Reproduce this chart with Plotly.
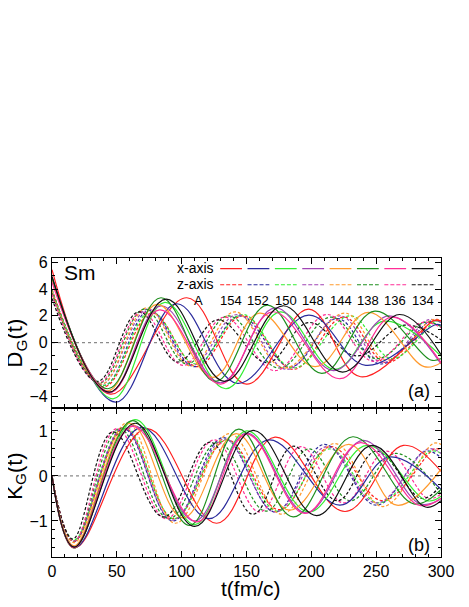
import plotly.graph_objects as go

# Mass numbers and colours of the curves (legend order)
mass_labels = ["154", "152", "150", "148", "144", "138", "136", "134"]
colors = ["#ff2020", "#2b2b9c", "#33ee33", "#a045b5", "#ff9a2e", "#1f8f1f", "#ff2d96", "#111111"]

# D_G(t), x-axis (solid): (t, value) at start, extrema, end
dg_x_154 = [(0, 5.45), (45, -3.85), (104, 3.35), (150, -3.1), (198, 2.5), (238, -2.55), (295, 1.65), (300, 1.6)]
dg_x_152 = [(0, 4.9), (49, -4.45), (96, 2.9), (143, -3.05), (198, 2.05), (242, -1.7), (296, 1.35), (300, 1.3)]
dg_x_150 = [(0, 4.8), (47, -4.2), (87, 3.0), (134, -3.45), (176, 2.3), (218, -2.0), (256, 1.6), (300, -1.0)]
dg_x_148 = [(0, 4.75), (44, -3.75), (84, 2.75), (130, -3.0), (172, 2.6), (217, -2.1), (260, 2.0), (300, -1.6)]
dg_x_144 = [(0, 4.7), (43, -3.6), (81, 2.85), (124, -2.6), (160, 2.2), (203, -1.8), (244, 2.25), (287, -1.8), (300, -1.5)]
dg_x_138 = [(0, 4.85), (43, -3.45), (84, 3.35), (126, -2.9), (166, 2.8), (208, -2.3), (249, 2.35), (292, -1.3), (300, -1.2)]
dg_x_136 = [(0, 4.5), (45, -3.7), (83, 2.45), (130, -3.1), (170, 2.3), (222, -2.7), (262, 1.9), (300, -1.5)]
dg_x_134 = [(0, 4.95), (44, -3.7), (88, 3.25), (133, -2.9), (178, 2.75), (224, -2.2), (268, 2.1), (300, -0.9)]

# D_G(t), z-axis (dashed)
dg_z_154 = [(0, 4.0), (40, -3.3), (77, 2.2), (112, -1.8), (147, 2.0), (186, -2.0), (225, 1.9), (258, -1.5), (295, 1.7), (300, 1.65)]
dg_z_152 = [(0, 3.9), (40, -3.2), (75, 2.4), (110, -1.8), (145, 2.0), (184, -1.8), (220, 1.8), (253, -1.6), (292, 1.6), (300, 1.5)]
dg_z_150 = [(0, 3.9), (40, -3.2), (76, 2.3), (111, -1.6), (147, 2.1), (186, -1.9), (230, 2.0), (262, -1.2), (296, 1.6), (300, 1.55)]
dg_z_148 = [(0, 3.8), (38, -3.1), (74, 2.5), (108, -1.7), (143, 2.1), (181, -2.0), (222, 2.0), (255, -1.5), (290, 1.7), (300, 1.5)]
dg_z_144 = [(0, 3.8), (38, -3.1), (73, 2.6), (107, -1.75), (141, 2.3), (179, -1.9), (226, 2.2), (258, -1.3), (293, 1.7), (300, 1.6)]
dg_z_138 = [(0, 3.7), (37, -3.0), (71, 2.5), (104, -1.6), (136, 2.0), (175, -1.9), (215, 1.9), (250, -1.2), (287, 1.5), (300, 1.2)]
dg_z_136 = [(0, 3.6), (36, -3.0), (69, 2.3), (101, -1.7), (133, 1.9), (172, -2.1), (212, 2.1), (248, -1.4), (285, 1.5), (300, 1.1)]
dg_z_134 = [(0, 3.3), (35, -2.9), (67, 2.3), (97, -1.45), (128, 1.7), (166, -1.5), (198, 1.5), (235, -1.0), (272, 1.3), (300, 0.2)]

# K_G(t), x-axis (solid)
kg_x_154 = [(0, 0), (18, -1.58), (73, 1.05), (127, -1.05), (172, 0.86), (226, -0.79), (271, 0.68), (300, 0.1)]
kg_x_152 = [(0, 0), (18, -1.58), (69, 1.08), (121, -0.95), (167, 0.8), (222, -0.65), (260, 0.42), (300, -0.3)]
kg_x_150 = [(0, 0), (17, -1.6), (64, 1.25), (110, -1.08), (150, 1.0), (198, -0.8), (243, 0.68), (289, -0.55), (300, -0.45)]
kg_x_148 = [(0, 0), (17, -1.58), (63, 1.12), (110, -1.0), (150, 0.95), (196, -0.82), (240, 0.79), (284, -0.62), (300, -0.5)]
kg_x_144 = [(0, 0), (17, -1.55), (60, 1.17), (101, -0.93), (142, 0.94), (183, -0.76), (229, 0.7), (266, -0.65), (300, 0.15)]
kg_x_138 = [(0, 0), (17, -1.6), (62, 1.23), (106, -1.1), (144, 1.04), (186, -0.91), (232, 0.87), (279, -0.62), (300, -0.3)]
kg_x_136 = [(0, 0), (17, -1.6), (62, 1.1), (112, -1.02), (150, 0.93), (195, -0.83), (238, 0.74), (283, -0.65), (300, -0.5)]
kg_x_134 = [(0, 0), (17, -1.58), (64, 1.17), (110, -1.12), (155, 1.01), (204, -0.88), (247, 0.68), (288, -0.69), (300, -0.55)]

# K_G(t), z-axis (dashed)
kg_z_154 = [(0, 0), (17, -1.45), (56, 1.05), (94, -0.95), (135, 0.8), (175, -0.75), (215, 0.65), (255, -0.55), (295, 0.6), (300, 0.58)]
kg_z_152 = [(0, 0), (17, -1.45), (55, 1.05), (93, -1.0), (132, 0.85), (172, -0.8), (210, 0.7), (250, -0.65), (288, 0.55), (300, 0.4)]
kg_z_150 = [(0, 0), (17, -1.42), (56, 1.1), (94, -0.95), (134, 0.8), (174, -0.78), (214, 0.6), (252, -0.6), (292, 0.55), (300, 0.5)]
kg_z_148 = [(0, 0), (17, -1.45), (55, 1.08), (93, -0.98), (133, 0.82), (172, -0.8), (212, 0.65), (250, -0.6), (290, 0.6), (300, 0.5)]
kg_z_144 = [(0, 0), (17, -1.48), (58, 1.18), (95, -1.05), (137, 0.94), (177, -0.85), (218, 0.72), (255, -0.68), (294, 0.72), (300, 0.7)]
kg_z_138 = [(0, 0), (17, -1.45), (52, 1.05), (90, -0.95), (128, 0.75), (165, -0.78), (198, 0.6), (230, -0.55), (265, 0.5), (300, -0.4)]
kg_z_136 = [(0, 0), (17, -1.45), (50, 1.05), (88, -0.95), (125, 0.8), (160, -0.8), (192, 0.65), (225, -0.6), (258, 0.55), (290, -0.5), (300, -0.4)]
kg_z_134 = [(0, 0), (16, -1.4), (47, 0.98), (86, -0.91), (122, 0.75), (155, -0.85), (186, 0.66), (220, -0.55), (250, 0.55), (285, -0.5), (300, -0.2)]

dg_x = [dg_x_154, dg_x_152, dg_x_150, dg_x_148, dg_x_144, dg_x_138, dg_x_136, dg_x_134]
dg_z = [dg_z_154, dg_z_152, dg_z_150, dg_z_148, dg_z_144, dg_z_138, dg_z_136, dg_z_134]
kg_x = [kg_x_154, kg_x_152, kg_x_150, kg_x_148, kg_x_144, kg_x_138, kg_x_136, kg_x_134]
kg_z = [kg_z_154, kg_z_152, kg_z_150, kg_z_148, kg_z_144, kg_z_138, kg_z_136, kg_z_134]

FONT = "Liberation Sans, Arial, sans-serif"
fig = go.Figure()


def add_curve(pts, color, dashed, xa, ya):
    fig.add_trace(go.Scatter(
        x=[p[0] for p in pts], y=[p[1] for p in pts],
        mode="lines", xaxis=xa, yaxis=ya, showlegend=False, hoverinfo="skip",
        line=dict(color=color, width=1.2, shape="spline", smoothing=1.1,
                  dash="3px,2px" if dashed else "solid"),
    ))


# dashed first so the solid ones sit on top
for i in range(8):
    add_curve(dg_z[i], colors[i], True, "x2", "y")
    add_curve(kg_z[i], colors[i], True, "x", "y2")
for i in range(8):
    add_curve(dg_x[i], colors[i], False, "x2", "y")
    add_curve(kg_x[i], colors[i], False, "x", "y2")

shapes = []
# dotted zero lines
for xr, yr in (("x2", "y"), ("x", "y2")):
    shapes.append(dict(type="line", xref=xr, yref=yr, x0=0, x1=300, y0=0, y1=0,
                       line=dict(color="#8a8a8a", width=1.2, dash="dot"), layer="below"))

# hand-made legend: line samples and mass labels
annotations = []
seg_c0, seg_step, seg_half = 138.1, 21.1, 8.4
for i in range(8):
    c = seg_c0 + i * seg_step
    shapes.append(dict(type="line", xref="x2", yref="y", x0=c - seg_half, x1=c + seg_half,
                       y0=5.52, y1=5.52, line=dict(color=colors[i], width=1.2)))
    shapes.append(dict(type="line", xref="x2", yref="y", x0=c - seg_half, x1=c + seg_half,
                       y0=4.32, y1=4.32, line=dict(color=colors[i], width=1.2, dash="4px,2px")))
    annotations.append(dict(x=c, y=3.15, xref="x2", yref="y", text=mass_labels[i], showarrow=False,
                            font=dict(family=FONT, size=13, color="black")))

annotations += [
    dict(x=126.5, y=5.6, xref="x2", yref="y", text="x-axis", showarrow=False, xanchor="right",
         font=dict(family=FONT, size=14, color="black")),
    dict(x=126.5, y=4.4, xref="x2", yref="y", text="z-axis", showarrow=False, xanchor="right",
         font=dict(family=FONT, size=14, color="black")),
    dict(x=113, y=3.15, xref="x2", yref="y", text="A", showarrow=False,
         font=dict(family=FONT, size=13, color="black")),
    dict(x=7.5, y=6.25, xref="x2", yref="y", text="Sm", showarrow=False, xanchor="left", yanchor="top",
         font=dict(family=FONT, size=21, color="black")),
    dict(x=283, y=-3.65, xref="x2", yref="y", text="(a)", showarrow=False,
         font=dict(family=FONT, size=18, color="black")),
    dict(x=283, y=-1.54, xref="x", yref="y2", text="(b)", showarrow=False,
         font=dict(family=FONT, size=18, color="black")),
    dict(x=-0.093, y=0, xref="paper", yref="y", text="D<sub>G</sub>(t)", showarrow=False,
         xanchor="center", yanchor="middle",
         textangle=-90, font=dict(family=FONT, size=22, color="black")),
    dict(x=-0.093, y=0, xref="paper", yref="y2", text="K<sub>G</sub>(t)", showarrow=False,
         xanchor="center", yanchor="middle",
         textangle=-90, font=dict(family=FONT, size=22, color="black")),
    dict(x=0.51, y=-0.107, xref="paper", yref="paper", text="t(fm/c)", showarrow=False,
         xanchor="center", yanchor="middle", font=dict(family=FONT, size=21, color="black")),
]

axis_common = dict(showline=True, linecolor="black", linewidth=1.3, mirror="ticks",
                   ticks="inside", ticklen=6, tickwidth=1.1, tickcolor="black",
                   showgrid=False, zeroline=False,
                   tickfont=dict(family=FONT, size=16, color="black"))

# page body adds an 8px offset, so margins are trimmed to keep the frame in place
fig.update_layout(
    width=469, height=607,
    margin=dict(l=44, r=36, t=250, b=58),
    paper_bgcolor="white", plot_bgcolor="white",
    showlegend=False,
    xaxis=dict(domain=[0, 1], anchor="y2", range=[0, 300], tickvals=[0, 50, 100, 150, 200, 250, 300],
               minor=dict(dtick=10, ticks="inside", ticklen=3, tickcolor="black"), **axis_common),
    xaxis2=dict(domain=[0, 1], anchor="y", matches="x", range=[0, 300], showticklabels=False,
                tickvals=[0, 50, 100, 150, 200, 250, 300],
                minor=dict(dtick=10, ticks="inside", ticklen=3, tickcolor="black"), **axis_common),
    yaxis=dict(domain=[0.5, 1], anchor="x2", range=[-4.85, 6.32], tickvals=[-4, -2, 0, 2, 4, 6],
               minor=dict(dtick=1, tick0=0, ticks="inside", ticklen=3, tickcolor="black"), **axis_common),
    yaxis2=dict(domain=[0, 0.5], anchor="x", range=[-1.8, 1.52], tickvals=[-1, 0, 1],
                minor=dict(dtick=0.2, tick0=0, ticks="inside", ticklen=3, tickcolor="black"), **axis_common),
    shapes=shapes,
    annotations=annotations,
)

fig.write_html("out.html")
